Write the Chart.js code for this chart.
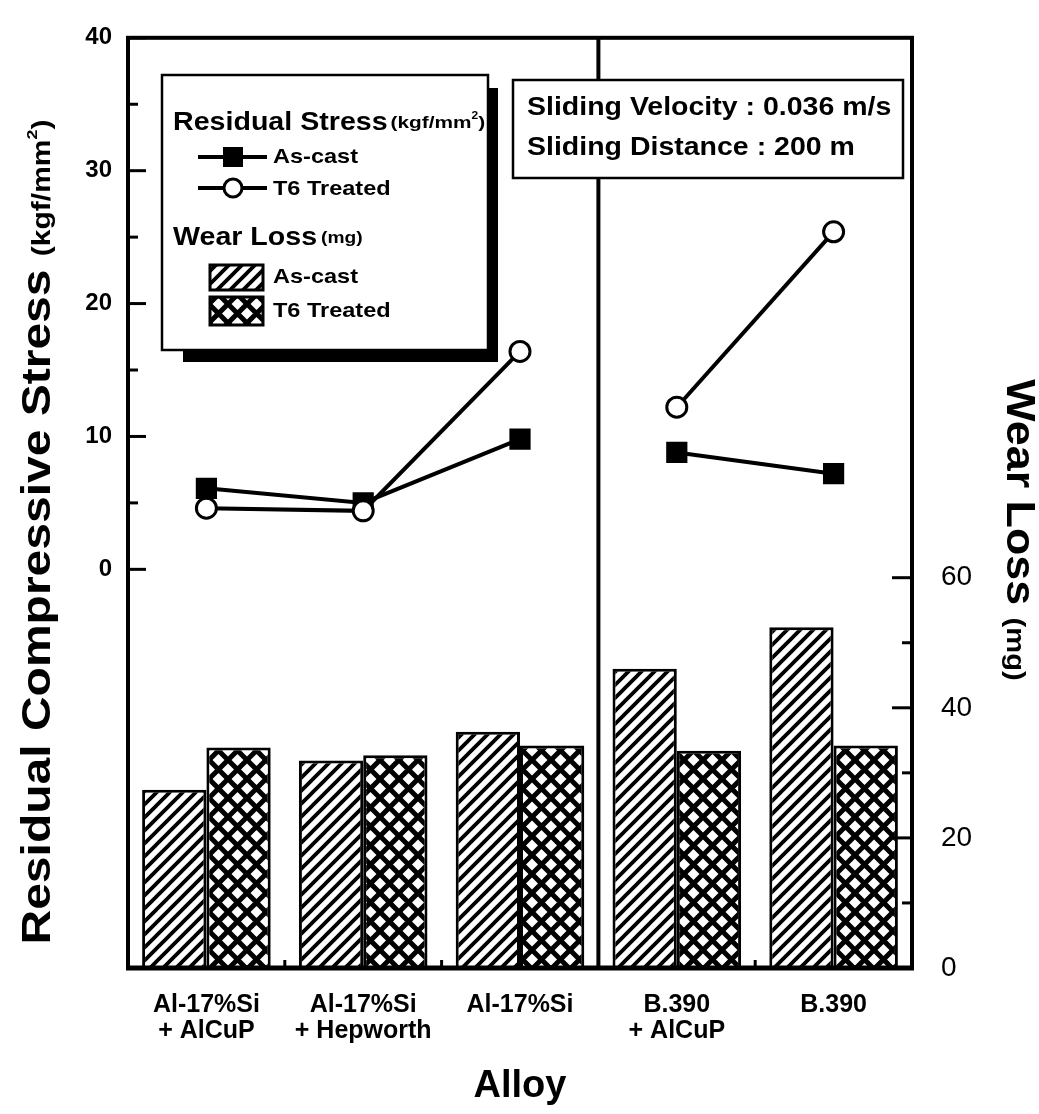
<!DOCTYPE html>
<html>
<head>
<meta charset="utf-8">
<script src="https://cdn.jsdelivr.net/npm/chart.js@4.4.0/dist/chart.umd.min.js"></script>
<style>
  html, body { margin: 0; padding: 0; background: #fff; }
</style>
</head>
<body>
<canvas id="chart" width="1039" height="1114"></canvas>
<script>
// data
const alloys = [['Al-17%Si', '+ AlCuP'], ['Al-17%Si', '+ Hepworth'], 'Al-17%Si', ['B.390', '+ AlCuP'], 'B.390'];
const stressAsCast = [6.1, 5.0, 9.8, 8.8, 7.2];     // kgf/mm2
const stressT6 = [4.6, 4.4, 16.4, 12.2, 25.4];
const wearAsCast = [27.4, 31.9, 36.3, 46.0, 52.4];  // mg
const wearT6 = [33.9, 32.7, 34.2, 33.4, 34.2];
const stressTicks = [0, 10, 20, 30, 40];
const wearTicks = [0, 20, 40, 60];

const FONT = '"Liberation Sans", Arial, Helvetica, sans-serif';
Chart.defaults.font.family = FONT;
Chart.defaults.color = '#000';

const canvas = document.getElementById('chart');
const ctx = canvas.getContext('2d');

function makePattern(kind) {
  const c = document.createElement('canvas');
  const g = c.getContext('2d');
  const s = kind === 'diag' ? 13 : 19;
  c.width = s; c.height = s;
  g.fillStyle = '#fff';
  g.fillRect(0, 0, s, s);
  g.strokeStyle = '#000';
  g.beginPath();
  if (kind === 'diag') {
    g.lineWidth = 3.8;
    g.moveTo(-3, s + 3); g.lineTo(s + 3, -3);
    g.moveTo(-3, 3); g.lineTo(3, -3);
    g.moveTo(s - 3, s + 3); g.lineTo(s + 3, s - 3);
  } else {
    g.lineWidth = 5;
    g.moveTo(-2, -2); g.lineTo(s + 2, s + 2);
    g.moveTo(s + 2, -2); g.lineTo(-2, s + 2);
  }
  g.stroke();
  return ctx.createPattern(c, 'repeat');
}
const diagFill = makePattern('diag');
const crossFill = makePattern('cross');

// line between the two alloy families is not drawn
const breakSegment = {
  borderColor: (c) => (c.p0DataIndex === 2 ? 'rgba(0,0,0,0)' : '#000'),
};

function text(g, s, x, y, size, weight, sx, align) {
  g.save();
  g.font = `${weight} ${size}px ${FONT}`;
  g.textBaseline = 'middle';
  g.textAlign = align || 'left';
  g.translate(x, y);
  g.scale(sx || 1, 1);
  g.fillText(s, 0, 0);
  const w = g.measureText(s).width * (sx || 1);
  g.restore();
  return w;
}

// pieces of text on one baseline, centred on (cx, cy), rotated
function richText(g, pieces, cx, cy, rot, stretch, baseOff) {
  g.save();
  g.translate(cx, cy);
  g.rotate(rot);
  g.scale(stretch, 1);
  g.textBaseline = 'alphabetic';
  g.textAlign = 'left';
  let total = 0;
  pieces.forEach((p) => {
    g.font = `bold ${p.size}px ${FONT}`;
    p.w = g.measureText(p.t).width;
    total += p.w;
  });
  let x = -total / 2;
  pieces.forEach((p) => {
    g.font = `bold ${p.size}px ${FONT}`;
    g.fillText(p.t, x, baseOff + (p.dy || 0));
    x += p.w;
  });
  g.restore();
}

const decorations = {
  id: 'decorations',
  afterDatasetsDraw(chart) {
    const g = chart.ctx;
    const a = chart.chartArea;
    const xs = chart.scales.x;
    const ys = chart.scales.y;
    const ws = chart.scales.y2;
    g.save();
    g.strokeStyle = '#000';
    g.lineCap = 'butt';

    // frame
    g.lineWidth = 4;
    g.strokeRect(a.left, a.top, a.right - a.left, a.bottom - a.top);
    g.lineWidth = 5;
    g.beginPath();
    g.moveTo(a.left - 2, a.bottom);
    g.lineTo(a.right + 2, a.bottom);
    g.stroke();

    // divider between Al-17%Si and B.390 alloys
    g.lineWidth = 4;
    const xd = (xs.getPixelForValue(2) + xs.getPixelForValue(3)) / 2;
    g.beginPath();
    g.moveTo(xd, a.top);
    g.lineTo(xd, a.bottom);
    g.stroke();

    // inward ticks, left axis
    g.lineWidth = 3;
    for (let v = 0; v <= 40; v += 5) {
      const y = ys.getPixelForValue(v);
      g.beginPath();
      g.moveTo(a.left, y);
      g.lineTo(a.left + (v % 10 === 0 ? 18 : 10), y);
      g.stroke();
    }
    // inward ticks, right axis
    for (let v = 10; v <= 60; v += 10) {
      const y = ws.getPixelForValue(v);
      g.beginPath();
      g.moveTo(a.right, y);
      g.lineTo(a.right - (v % 20 === 0 ? 20 : 10), y);
      g.stroke();
    }
    // small ticks between categories
    for (let i = 1; i < alloys.length; i++) {
      const x = (xs.getPixelForValue(i - 1) + xs.getPixelForValue(i)) / 2;
      g.beginPath();
      g.moveTo(x, a.bottom);
      g.lineTo(x, a.bottom - 8);
      g.stroke();
    }
    g.restore();
  },
  afterDraw(chart) {
    const g = chart.ctx;
    const a = chart.chartArea;
    g.save();
    g.fillStyle = '#000';
    g.strokeStyle = '#000';

    // axis titles
    richText(g, [
      { t: 'Residual Compressive Stress ', size: 40 },
      { t: '(kgf/mm', size: 25 },
      { t: '2', size: 15, dy: -13 },
      { t: ')', size: 25 },
    ], 36, 532, -Math.PI / 2, 1.2, 14);
    richText(g, [
      { t: 'Wear Loss ', size: 40 },
      { t: '(mg)', size: 26 },
    ], 1021, 530, Math.PI / 2, 1.12, 14);
    richText(g, [{ t: 'Alloy', size: 38 }], (a.left + a.right) / 2, 1083, 0, 1.0, 14);

    // legend box with drop shadow
    g.fillRect(183, 88, 315, 274);
    g.fillStyle = '#fff';
    g.fillRect(162, 75, 326, 275);
    g.lineWidth = 2.5;
    g.strokeRect(162, 75, 326, 275);
    g.fillStyle = '#000';

    let w = text(g, 'Residual Stress', 173, 123, 26, 'bold', 1.1);
    let x = 173 + w + 3;
    x += text(g, '(kgf/mm', x, 124, 16, 'bold', 1.3);
    x += text(g, '2', x, 116, 10, 'bold', 1.2);
    text(g, ')', x, 124, 16, 'bold', 1.3);

    g.lineWidth = 4;
    g.beginPath();
    g.moveTo(198, 157); g.lineTo(267, 157);
    g.moveTo(198, 188); g.lineTo(267, 188);
    g.stroke();
    g.fillRect(223, 147, 20, 20);
    g.beginPath();
    g.arc(233, 188, 9, 0, Math.PI * 2);
    g.fillStyle = '#fff';
    g.fill();
    g.lineWidth = 3;
    g.stroke();
    g.fillStyle = '#000';
    text(g, 'As-cast', 273, 157, 21, 'bold', 1.12);
    text(g, 'T6 Treated', 273, 189, 21, 'bold', 1.12);

    w = text(g, 'Wear Loss', 173, 238, 26, 'bold', 1.1);
    text(g, '(mg)', 173 + w + 4, 239, 16, 'bold', 1.2);

    g.lineWidth = 3;
    g.fillStyle = diagFill;
    g.fillRect(210, 265, 53, 25);
    g.strokeRect(210, 265, 53, 25);
    g.fillStyle = crossFill;
    g.fillRect(210, 297, 53, 28);
    g.strokeRect(210, 297, 53, 28);
    g.fillStyle = '#000';
    text(g, 'As-cast', 273, 277, 21, 'bold', 1.12);
    text(g, 'T6 Treated', 273, 311, 21, 'bold', 1.12);

    // test condition box
    g.fillStyle = '#fff';
    g.fillRect(513, 80, 390, 98);
    g.lineWidth = 2.5;
    g.strokeRect(513, 80, 390, 98);
    g.fillStyle = '#000';
    text(g, 'Sliding Velocity : 0.036 m/s', 527, 108, 25, 'bold', 1.14);
    text(g, 'Sliding Distance : 200 m', 527, 148, 25, 'bold', 1.14);
    g.restore();
  },
};

new Chart(canvas, {
  data: {
    labels: alloys,
    datasets: [
      {
        type: 'line',
        label: 'Residual Stress As-cast',
        data: stressAsCast,
        yAxisID: 'y',
        order: 2,
        borderColor: '#000',
        borderWidth: 4,
        pointStyle: 'rect',
        pointRadius: 15,
        pointBackgroundColor: '#000',
        pointBorderWidth: 0,
        segment: breakSegment,
      },
      {
        type: 'line',
        label: 'Residual Stress T6 Treated',
        data: stressT6,
        yAxisID: 'y',
        order: 1,
        borderColor: '#000',
        borderWidth: 4,
        pointStyle: 'circle',
        pointRadius: 10,
        pointBackgroundColor: '#fff',
        pointBorderColor: '#000',
        pointBorderWidth: 3,
        segment: breakSegment,
      },
      {
        type: 'bar',
        label: 'Wear Loss As-cast',
        data: wearAsCast,
        yAxisID: 'y2',
        order: 3,
        backgroundColor: diagFill,
        borderColor: '#000',
        borderWidth: 3,
        categoryPercentage: 0.82,
        barPercentage: 1,
      },
      {
        type: 'bar',
        label: 'Wear Loss T6 Treated',
        data: wearT6,
        yAxisID: 'y2',
        order: 3,
        backgroundColor: crossFill,
        borderColor: '#000',
        borderWidth: 3,
        categoryPercentage: 0.82,
        barPercentage: 1,
      },
    ],
  },
  options: {
    responsive: false,
    animation: false,
    events: [],
    layout: { padding: { top: 28, left: 0, right: 0, bottom: 0 } },
    plugins: { legend: { display: false }, tooltip: { enabled: false } },
    scales: {
      x: {
        type: 'category',
        offset: true,
        grid: { display: false },
        border: { display: false },
        ticks: {
          autoSkip: false,
          maxRotation: 0,
          padding: 16,
          font: { size: 25, weight: 'bold', lineHeight: 1.05 },
        },
        afterFit: (s) => { s.height = 146; },
      },
      y: {
        position: 'left',
        min: -30,
        max: 40,
        grid: { display: false },
        border: { display: false },
        afterBuildTicks: (s) => { s.ticks = stressTicks.map((v) => ({ value: v })); },
        ticks: { padding: 8, font: { size: 24, weight: 'bold' } },
        afterFit: (s) => { s.width = 128; },
      },
      y2: {
        position: 'right',
        min: 0,
        max: 143,
        grid: { display: false },
        border: { display: false },
        afterBuildTicks: (s) => { s.ticks = wearTicks.map((v) => ({ value: v })); },
        ticks: { padding: 21, font: { size: 28 } },
        afterFit: (s) => { s.width = 127; },
      },
    },
  },
  plugins: [decorations],
});
</script>
</body>
</html>
